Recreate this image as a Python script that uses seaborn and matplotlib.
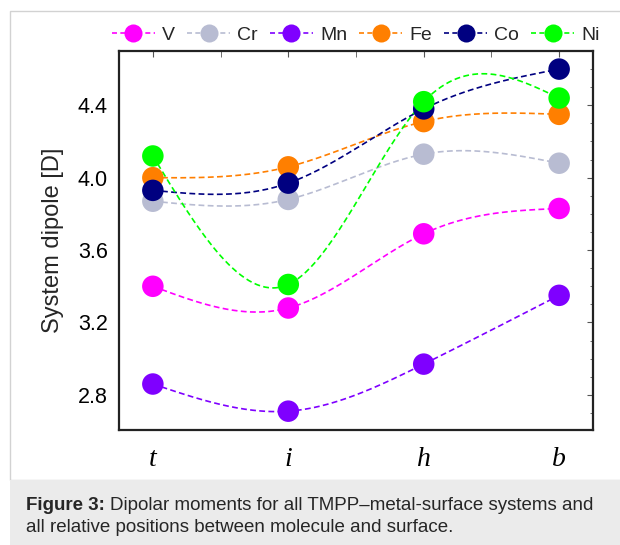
import numpy as np
import pandas as pd
import matplotlib
matplotlib.use('Agg')
import matplotlib.pyplot as plt
from matplotlib.lines import Line2D
from matplotlib.patches import Rectangle
import seaborn as sns

# data
positions = ['t', 'i', 'h', 'b']
metals = ['V', 'Cr', 'Mn', 'Fe', 'Co', 'Ni']
dip_V = [3.40, 3.28, 3.69, 3.83]
dip_Cr = [3.87, 3.88, 4.13, 4.08]
dip_Mn = [2.86, 2.71, 2.97, 3.35]
dip_Fe = [4.00, 4.06, 4.31, 4.35]
dip_Co = [3.93, 3.97, 4.38, 4.60]
dip_Ni = [4.12, 3.41, 4.42, 4.44]
colors = ['#FF00FF', '#B8BCD2', '#7F00FF', '#FF7F00', '#000080', '#00FF00']

series = {'V': dip_V, 'Cr': dip_Cr, 'Mn': dip_Mn, 'Fe': dip_Fe, 'Co': dip_Co, 'Ni': dip_Ni}
df = pd.DataFrame([(m, k, p, v) for m, vals in series.items()
                   for k, (p, v) in enumerate(zip(positions, vals))],
                  columns=['metal', 'x', 'position', 'dipole'])


def natural_spline(y, n=200):
    # natural cubic spline through equally spaced points (step 1)
    y = np.asarray(y, float)
    m = len(y)
    A = np.zeros((m, m))
    r = np.zeros(m)
    A[0, 0] = A[-1, -1] = 1
    for k in range(1, m - 1):
        A[k, k - 1:k + 2] = [1, 4, 1]
        r[k] = 6 * (y[k - 1] - 2 * y[k] + y[k + 1])
    M = np.linalg.solve(A, r)
    xs = np.linspace(0, m - 1, n)
    seg = np.clip(xs.astype(int), 0, m - 2)
    u = xs - seg
    v = 1 - u
    ys = (M[seg] * v ** 3 + M[seg + 1] * u ** 3) / 6 \
        + (y[seg] - M[seg] / 6) * v + (y[seg + 1] - M[seg + 1] / 6) * u
    return xs, ys


sns.set_style('white')
plt.rcParams['font.family'] = ['Liberation Sans', 'DejaVu Sans']

fig = plt.figure(figsize=(6.2, 5.45), dpi=100)
fig.patch.set_facecolor('white')

# card frame and caption band
fig.patches.append(Rectangle((10 / 620, 65 / 545), 1.0, 1 - 76 / 545, transform=fig.transFigure,
                             facecolor='white', edgecolor='#d2d2d2', lw=1.0, zorder=-2))
fig.patches.append(Rectangle((10 / 620, 0), 1.0, 65 / 545, transform=fig.transFigure,
                             facecolor='#ebebeb', edgecolor='none', zorder=-1))

ax = fig.add_axes([119 / 620, 115 / 545, 474 / 620, 379 / 545])
ax.set_facecolor('white')

for metal, col in zip(metals, colors):
    xs, ys = natural_spline(series[metal])
    ax.plot(xs, ys, color=col, lw=1.2, dashes=(3.5, 2), zorder=2)

sns.scatterplot(data=df, x='x', y='dipole', hue='metal', hue_order=metals,
                palette=colors, s=240, edgecolor='none', legend=False, ax=ax, zorder=3)

ax.set_xlim(-0.25, 3.25)
ax.set_ylim(2.606, 4.70)
ax.set_xticks(range(len(positions)))
ax.set_xticklabels(positions, family='Liberation Serif', style='italic', fontsize=20)
ax.set_xticks(np.arange(-0.0, 3.01, 0.5), minor=True)
ax.set_yticks([2.8, 3.2, 3.6, 4.0, 4.4])
ax.set_yticklabels(['2.8', '3.2', '3.6', '4.0', '4.4'], fontsize=15.5)
ax.set_yticks(np.arange(2.7, 4.71, 0.1), minor=True)
ax.tick_params(which='both', direction='in', top=True, right=True, colors='#555555',
               labelcolor='black')
ax.tick_params(which='major', length=4, width=0.8, pad=8)
ax.tick_params(axis='x', which='major', pad=12)
ax.tick_params(which='minor', length=2, width=0.6)
ax.tick_params(axis='x', which='minor', length=4)
ax.set_xlabel('')
ax.set_ylabel('System dipole [D]', fontsize=17, labelpad=10)
for sp in ax.spines.values():
    sp.set_color('#222222')
    sp.set_linewidth(1.6)

handles = [Line2D([], [], color=c, lw=1.2, dashes=(3, 2), marker='o', markersize=13,
                  markeredgewidth=0) for c in colors]
fig.legend(handles, metals, ncol=6, loc='center', bbox_to_anchor=(356 / 620, 1 - 35 / 545),
           frameon=False, fontsize=14, handlelength=2.2, handletextpad=0.38,
           columnspacing=0.62, numpoints=1)

cap_y1 = 1 - 505 / 545
t1 = fig.text(26 / 620, cap_y1, 'Figure 3:', fontsize=13.5, weight='bold', va='center')
r = fig.canvas.get_renderer()
w = t1.get_window_extent(r).width
fig.text((26 + w + 5) / 620, cap_y1, 'Dipolar moments for all TMPP\u2013metal-surface systems and',
         fontsize=13.5, va='center')
fig.text(26 / 620, 1 - 527 / 545, 'all relative positions between molecule and surface.',
         fontsize=13.5, va='center')

fig.savefig('out.png', dpi=100, facecolor=fig.get_facecolor())
